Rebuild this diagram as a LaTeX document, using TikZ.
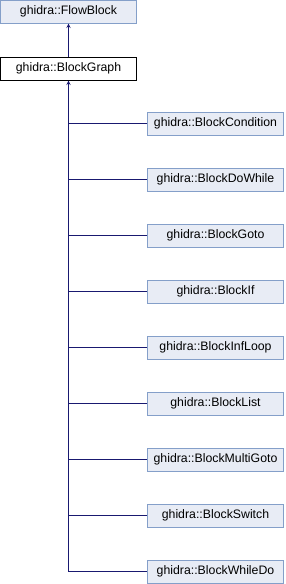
\documentclass[tikz,border=0pt]{standalone}
\usepackage{fontspec}
\setmainfont{Liberation Sans}
\definecolor{boxfill}{HTML}{E8ECF5}
\definecolor{boxline}{HTML}{849FC9}
\definecolor{edgeblue}{HTML}{191970}
\begin{document}
\begin{tikzpicture}[x=1pt, y=-1pt, >=stealth, line width=1pt,
    cls/.style={draw=boxline, fill=boxfill, minimum width=136pt, minimum height=23pt,
        inner sep=0pt, font=\fontsize{12.3}{14}\selectfont},
    cur/.style={cls, draw=black, fill=white},
    edge/.style={draw=edgeblue}]
    \useasboundingbox (0,0) rectangle (286,584);

    % Base and current class
    \node[cls] (flowblock) at (68.5, 11.5) {ghidra::FlowBlock};
    \node[cur] (blockgraph) at (68.5, 68.5) {ghidra::BlockGraph};
    \draw[edge, ->] (blockgraph) -- (flowblock);

    % Derived classes
    \node[cls] (condition) at (215.5, 123.5) {ghidra::BlockCondition};
    \node[cls] (dowhile) at (215.5, 179.5) {ghidra::BlockDoWhile};
    \node[cls] (goto) at (215.5, 235.5) {ghidra::BlockGoto};
    \node[cls] (if) at (215.5, 291.5) {ghidra::BlockIf};
    \node[cls] (infloop) at (215.5, 347.5) {ghidra::BlockInfLoop};
    \node[cls] (list) at (215.5, 403.5) {ghidra::BlockList};
    \node[cls] (multigoto) at (215.5, 459.5) {ghidra::BlockMultiGoto};
    \node[cls] (switch) at (215.5, 515.5) {ghidra::BlockSwitch};
    \node[cls] (whiledo) at (215.5, 571.5) {ghidra::BlockWhileDo};

    % Inheritance lines
    \coordinate (trunk) at (blockgraph.south |- whiledo.west);
    \draw[edge, <-] (blockgraph.south) -- (trunk) -- (whiledo.west);
    \foreach \c in {condition, dowhile, goto, if, infloop, list, multigoto, switch}
        \draw[edge] (\c.west) -- (\c.west -| trunk);
\end{tikzpicture}
\end{document}
